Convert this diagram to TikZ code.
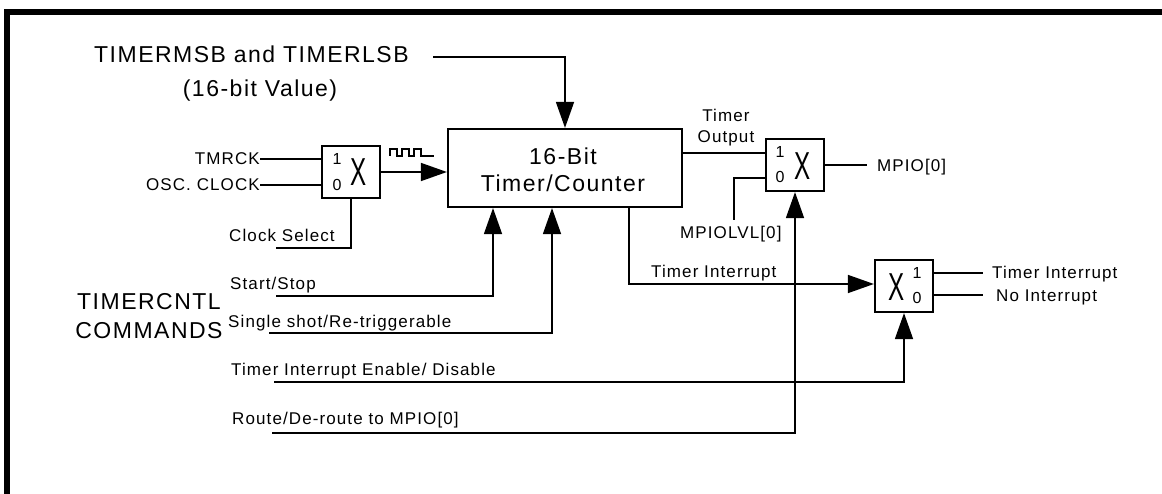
\documentclass[tikz,border=0pt]{standalone}
\usepackage{fontspec}
\setmainfont{Liberation Sans}[LetterSpace=6.5]
\usetikzlibrary{arrows.meta}
\begin{document}
\begin{tikzpicture}[x=1pt,y=-1pt,
  wire/.style={line width=1.6pt},
  thinwire/.style={line width=1.3pt},
  box/.style={draw,line width=2.2pt,inner sep=0pt},
  mux/.style={box,minimum width=58pt,minimum height=52pt},
  arr/.style={-{Triangle[length=26pt,width=18pt]}},
  big/.style={font=\fontsize{23}{27}\selectfont,inner sep=0pt},
  small/.style={font=\fontsize{17}{20}\selectfont,inner sep=0pt},
  digit/.style={font=\fontsize{16}{19}\selectfont,inner sep=0pt,anchor=base},
  xmark/.style={font=\fontsize{39}{40}\selectfont,inner sep=0pt,xscale=0.62}]
\useasboundingbox (0,0) rectangle (1162,494);
% frame
\draw[line width=6pt,line join=miter] (7,530) -- (7,12) -- (1200,12);

% blocks
\node[mux] (m1) at (351,172) {};
\node[box,minimum width=234pt,minimum height=78pt] (main) at (565,168) {};
\node[mux] (m2) at (795,165) {};
\node[mux] (m3) at (904,286) {};

% block texts
\node[big,anchor=base] (t16) at (563,165) {16-Bit};
\node[big,anchor=base] (ttc) at (563,192) {Timer/Counter};
\node[digit] (m1a) at (337,165) {1};
\node[digit] (m1b) at (337,191) {0};
\node[xmark] (m1x) at (359,172) {X};
\node[digit] (m2a) at (780,158) {1};
\node[digit] (m2b) at (780,183) {0};
\node[xmark] (m2x) at (803,166) {X};
\node[digit] (m3a) at (917,279) {1};
\node[digit] (m3b) at (917,304) {0};
\node[xmark] (m3x) at (897,287) {X};

% labels
\node[big,anchor=base west] (tmsb) at (94,63) {TIMERMSB and TIMERLSB};
\node[big,anchor=base] (tval) at (260,97) {(16-bit Value)};
\node[small,anchor=base east] (ltmr) at (260,165) {TMRCK};
\node[small,anchor=base east] (losc) at (260,191) {OSC. CLOCK};
\node[small,anchor=base west] (lcs) at (229,242) {Clock Select};
\node[small,anchor=base west] (lss) at (230,290) {Start/Stop};
\node[small,anchor=base west] (lsh) at (228,327) {Single shot/Re-triggerable};
\node[big,anchor=base] (lcn1) at (149,310) {TIMERCNTL};
\node[big,anchor=base] (lcn2) at (149,338) {COMMANDS};
\node[small,anchor=base west] (lie) at (231,375) {Timer Interrupt Enable/ Disable};
\node[small,anchor=base west] (lrt) at (232,424) {Route/De-route to MPIO[0]};
\node[small,anchor=base] (lto1) at (726,122) {Timer};
\node[small,anchor=base] (lto2) at (726,143) {Output};
\node[small,anchor=base west] (llvl) at (680,239) {MPIOLVL[0]};
\node[small,anchor=base west] (lmpio) at (877,172) {MPIO[0]};
\node[small,anchor=base west] (lti) at (651,278) {Timer Interrupt};
\node[small,anchor=base west] (lto) at (992,279) {Timer Interrupt};
\node[small,anchor=base west] (lno) at (996,302) {No Interrupt};

% coordinates for free ends
\coordinate (cmsb) at (433,57);
\coordinate (ccs) at (276,248);
\coordinate (css) at (276,296);
\coordinate (csh) at (269,333);
\coordinate (cie) at (274,382);
\coordinate (crt) at (272,433);
\coordinate (clvl) at (734,220);
\coordinate (cmpio) at (867,165);

% connectors
\draw[wire,arr] (cmsb) -| (main.north);
\draw[wire] (ltmr.east |- 0,159) -- (m1.west |- 0,159);
\draw[wire] (losc.east |- 0,185) -- (m1.west |- 0,185);
\draw[wire] (m1.south) |- (ccs);
\draw[wire,arr] (m1.east) -- (m1.east -| main.west);
\draw[thinwire] (390,156) -- (390,149) -- (397,149) -- (397,156) -- (402,156)
  -- (402,149) -- (409,149) -- (409,156) -- (414,156) -- (414,149) -- (421,149)
  -- (421,156) -- (434,156);
\draw[wire,arr] (css) -| ([xshift=-72pt]main.south);
\draw[wire,arr] (csh) -| ([xshift=-13pt]main.south);
\draw[wire,arr] ([xshift=64pt]main.south) |- ([yshift=2pt]m3.west);
\draw[wire,arr] (cie) -| (m3.south);
\draw[wire,arr] (crt) -| (m2.south);
\draw[thinwire] (main.east |- 0,153) -- (m2.west |- 0,153);
\draw[wire] (m2.west |- 0,178) -| (clvl);
\draw[wire] (m2.east) -- (cmpio);
\draw[wire] (m3.east |- 0,273) -- (983,273);
\draw[wire] (m3.east |- 0,295) -- (983,295);
\end{tikzpicture}
\end{document}
